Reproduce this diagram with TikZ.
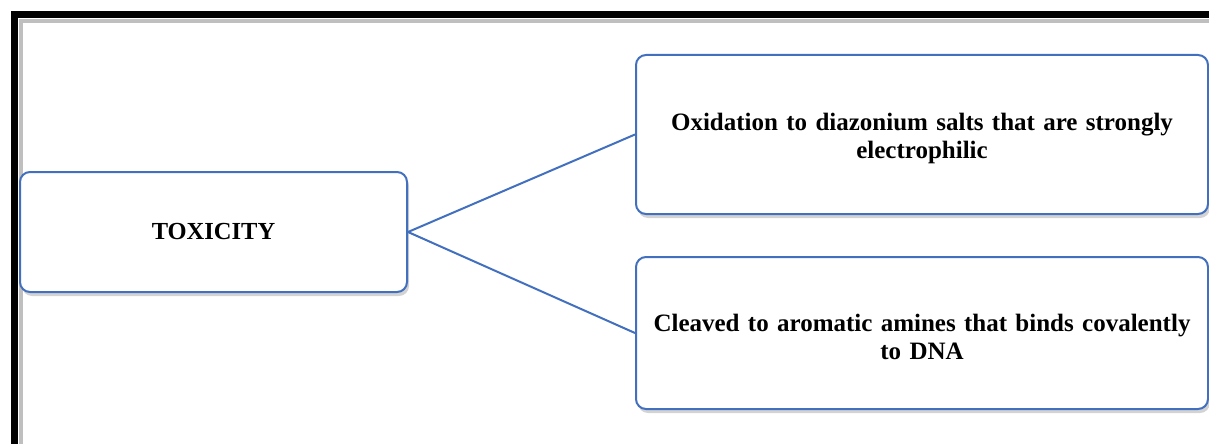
\documentclass[tikz,border=0pt]{standalone}
\usepackage{fontspec}
\setmainfont{Liberation Serif}
\usetikzlibrary{shadows}
\definecolor{boxblue}{HTML}{4270BE}
\tikzset{
  card/.style={draw=boxblue, line width=2pt, rounded corners=10pt, fill=white,
    drop shadow={opacity=0.35, shadow xshift=2pt, shadow yshift=-4pt},
    align=center, inner sep=0pt, font=\bfseries\fontsize{25}{28}\selectfont},
  link/.style={draw=boxblue, line width=2pt}
}
\begin{document}
\begin{tikzpicture}[x=1pt,y=-1pt]
\useasboundingbox (0,0) rectangle (1209,444);
\begin{scope}
\clip (0,0) rectangle (1209,444);
\draw[black!25, line width=4pt] (21,480) -- (21,21) -- (1240,21);
\draw[black, line width=7pt] (14.5,480) -- (14.5,14.5) -- (1240,14.5);
\node[card, minimum width=387pt, minimum height=120pt, font=\bfseries\fontsize{24.5}{28}\selectfont] (tox) at (213.5,232) {TOXICITY};
\node[card, minimum width=572pt, minimum height=159pt, text width=565pt] (ox) at (922,134.5)
  {\rule{0pt}{25pt}Oxidation to diazonium salts that are strongly\\electrophilic};
\node[card, minimum width=572pt, minimum height=152pt, text width=565pt] (cl) at (922,333)
  {\rule{0pt}{25pt}Cleaved to aromatic amines that binds covalently\\to DNA};
\end{scope}
\draw[link] (tox.east) -- (ox.west);
\draw[link] (tox.east) -- (cl.west);
\end{tikzpicture}
\end{document}
